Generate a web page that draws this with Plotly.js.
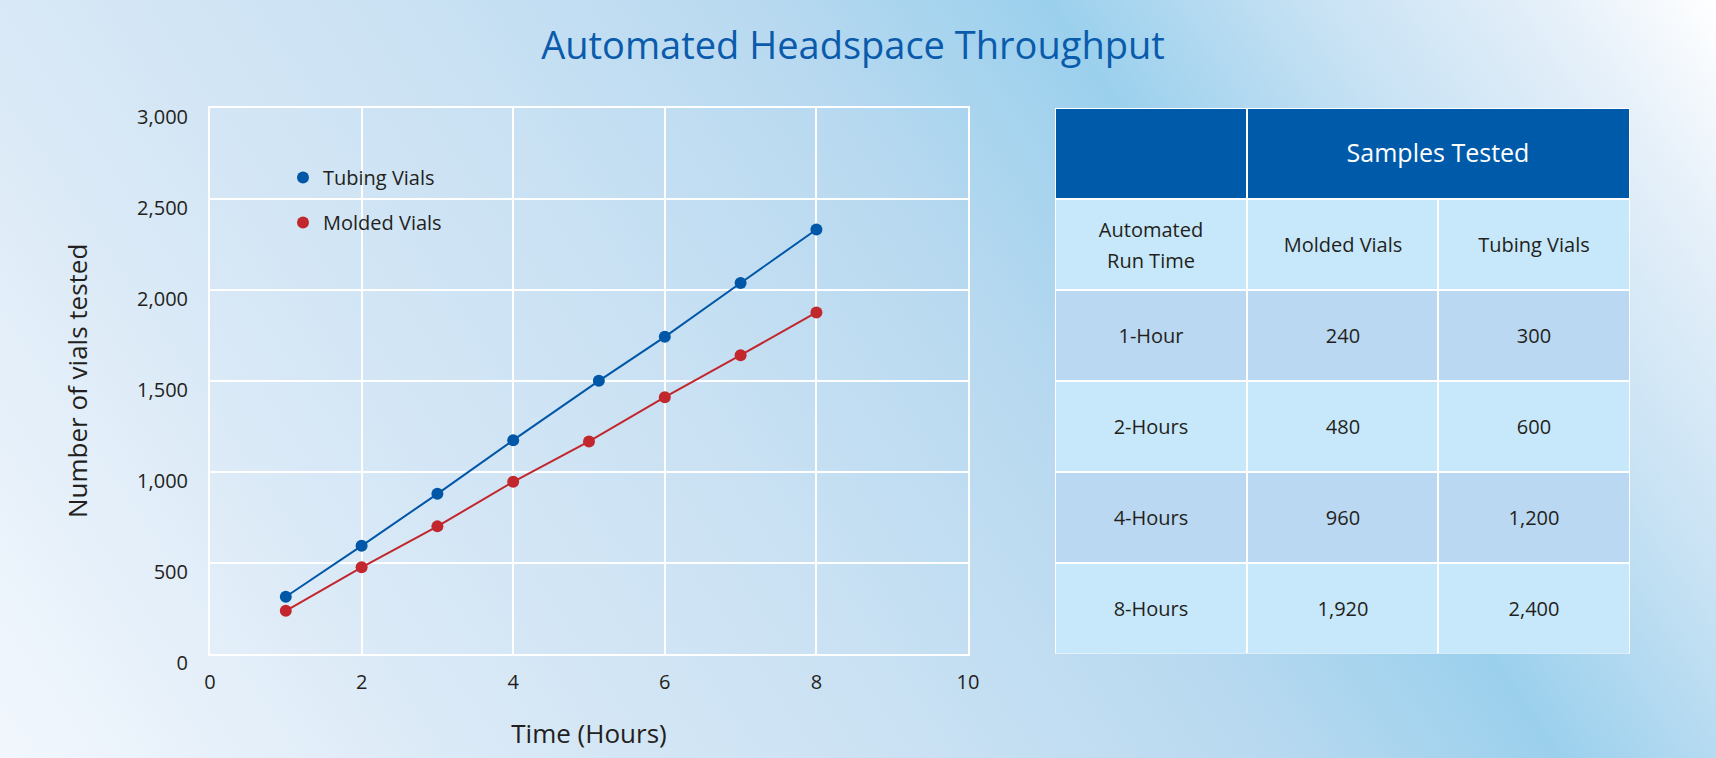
<!DOCTYPE html>
<html><head><meta charset="utf-8">
<script src="https://cdn.plot.ly/plotly-3.0.1.min.js"></script>
<style>
html,body{margin:0;padding:0;width:1716px;height:758px;overflow:hidden;}
#chart{width:1716px;height:758px;background:linear-gradient(56deg,#f2f7fd 0%,#d8e8f6 23%,#c9e1f3 42%,#b8d9f0 57%,#9bd0ed 70%,#c8e2f4 82%,#e4eff9 92%,#ffffff 100%);}
</style></head><body><div id="chart"></div>
<script>
// Chart data
const hoursTubing = [1, 2, 3, 4, 5.13, 6, 7, 8];
const vialsTubing = [313, 593, 879, 1174, 1500, 1742, 2038, 2332];
const hoursMolded = [1, 2, 3, 4, 5, 6, 7, 8];
const vialsMolded = [236, 475, 700, 945, 1167, 1410, 1641, 1876];
const xTickVals = [0, 2, 4, 6, 8, 10];
const yTickVals = [0, 500, 1000, 1500, 2000, 2500, 3000];
// Table data
const tableTitle = ['', 'Samples Tested'];
const tableColumns = ['Automated<br>Run Time', 'Molded Vials', 'Tubing Vials'];
const runTimes = ['1-Hour', '2-Hours', '4-Hours', '8-Hours'];
const moldedTested = [240, 480, 960, 1920];
const tubingTested = [300, 600, 1200, 2400];

const W = 1716, H = 758;
const FONT = '"Open Sans", "DejaVu Sans", sans-serif';
const TXT = '#231f20';
const BLUE = '#0057a8', RED = '#c1272d';
const DARK = '#005aaa', ROW_A = '#bad8f1', ROW_B = '#c7e8fa';
const tableScale = [[0, DARK], [0.5, ROW_A], [1, ROW_B]];

const plotL = 210, plotR = 968, plotT = 108, plotB = 653.7;
const tabL = 1055, tabR = 1630;

const fmt = v => v.toLocaleString('en-US');
// cell text at 20px inside a larger base font, so the two-line header gets the wider line spacing
const cellTxt = t => String(t).split('<br>').map(p => '<span style="font-size:20px">' + p + '</span>').join('<br>');
const nCols = tableColumns.length;
const nRows = runTimes.length + 2;           // title row + column-header row + data rows
const colEdges = tableColumns.map((_, i) => i).concat([nCols]);
const titleEdges = [0, 1, nCols];            // "Samples Tested" spans the two data columns

// body grid (column headers, then data rows), top to bottom
const bodyRows = [tableColumns].concat(runTimes.map((t, i) => [t, fmt(moldedTested[i]), fmt(tubingTested[i])]));
const bodyText = bodyRows.map(row => row.map(cellTxt));
const bodyZ = bodyRows.map((row, r) => row.map(() => (r === 0 || r % 2 === 0) ? 2 : 1));
const bodyEdges = bodyRows.map((_, r) => r + 1).concat([nRows]);

const traces = [
  {type: 'scatter', mode: 'lines', x: hoursTubing, y: vialsTubing, line: {color: BLUE, width: 2}, showlegend: false, hoverinfo: 'skip'},
  {type: 'scatter', mode: 'lines', x: hoursMolded, y: vialsMolded, line: {color: RED, width: 2}, showlegend: false, hoverinfo: 'skip'},
  {type: 'scatter', mode: 'markers', name: 'Tubing Vials', legendgroup: 'a', x: hoursTubing, y: vialsTubing, marker: {color: BLUE, size: 12}},
  {type: 'scatter', mode: 'markers', name: 'Molded Vials', legendgroup: 'b', x: hoursMolded, y: vialsMolded, marker: {color: RED, size: 12}},
  {type: 'heatmap', xaxis: 'x2', yaxis: 'y2', x: titleEdges, y: [0, 1], z: [tableTitle.map(() => 0)],
   text: [tableTitle], texttemplate: '%{text}', textfont: {family: FONT, size: 25, color: '#ffffff'},
   colorscale: tableScale, zmin: 0, zmax: 2, showscale: false, xgap: 2, ygap: 2, hoverinfo: 'skip'},
  {type: 'heatmap', xaxis: 'x2', yaxis: 'y2', x: colEdges, y: bodyEdges, z: bodyZ,
   text: bodyText, texttemplate: '%{text}', textfont: {family: FONT, size: 23.5, color: TXT},
   colorscale: tableScale, zmin: 0, zmax: 2, showscale: false, xgap: 2, ygap: 2, hoverinfo: 'skip'}
];

const layout = {
  width: W, height: H,
  margin: {l: 0, r: 0, t: 0, b: 0},
  paper_bgcolor: 'rgba(0,0,0,0)', plot_bgcolor: 'rgba(0,0,0,0)',
  font: {family: FONT, color: TXT},
  title: {text: 'Automated Headspace Throughput', x: 853 / W, xanchor: 'center', y: 1 - 46 / H, yanchor: 'middle', yref: 'container',
          font: {family: FONT, size: 38, color: '#0a5bab'}},
  xaxis: {domain: [plotL / W, plotR / W], range: [0, 10], tickvals: xTickVals, showgrid: true, gridcolor: '#ffffff', gridwidth: 2,
          showline: true, linecolor: '#ffffff', linewidth: 2, mirror: true, zeroline: false, ticks: '', ticklabelstandoff: 9,
          tickfont: {family: FONT, size: 20, color: TXT},
          title: {text: 'Time (Hours)', standoff: 31, font: {family: FONT, size: 26, color: TXT}}, fixedrange: true},
  yaxis: {domain: [(H - plotB) / H, (H - plotT) / H], range: [0, 3000], tickvals: yTickVals, tickformat: ',d', showgrid: true, gridcolor: '#ffffff', gridwidth: 2,
          showline: true, linecolor: '#ffffff', linewidth: 2, mirror: true, zeroline: false, ticks: '', ticklabelstandoff: 16, ticklabelshift: 9,
          tickfont: {family: FONT, size: 20, color: TXT},
          title: {text: 'Number of vials tested', standoff: 42, font: {family: FONT, size: 26, color: TXT}}, fixedrange: true},
  xaxis2: {domain: [tabL / W, tabR / W], range: [0, nCols], anchor: 'y2', visible: false, fixedrange: true},
  yaxis2: {domain: [(H - plotB) / H, (H - plotT) / H], range: [nRows, 0], anchor: 'x2', visible: false, fixedrange: true},
  shapes: [{type: 'rect', xref: 'x2', yref: 'y2', x0: 0, x1: nCols, y0: 0, y1: nRows, layer: 'below',
            fillcolor: '#ffffff', line: {width: 0}}],
  showlegend: true,
  legend: {x: 283 / W, xanchor: 'left', y: 1 - 158 / H, yanchor: 'top', bgcolor: 'rgba(0,0,0,0)', borderwidth: 0,
           tracegroupgap: 16, font: {family: FONT, size: 20, color: TXT}},
  hovermode: false
};

Plotly.newPlot('chart', traces, layout, {displayModeBar: false, staticPlot: true});
</script></body></html>
